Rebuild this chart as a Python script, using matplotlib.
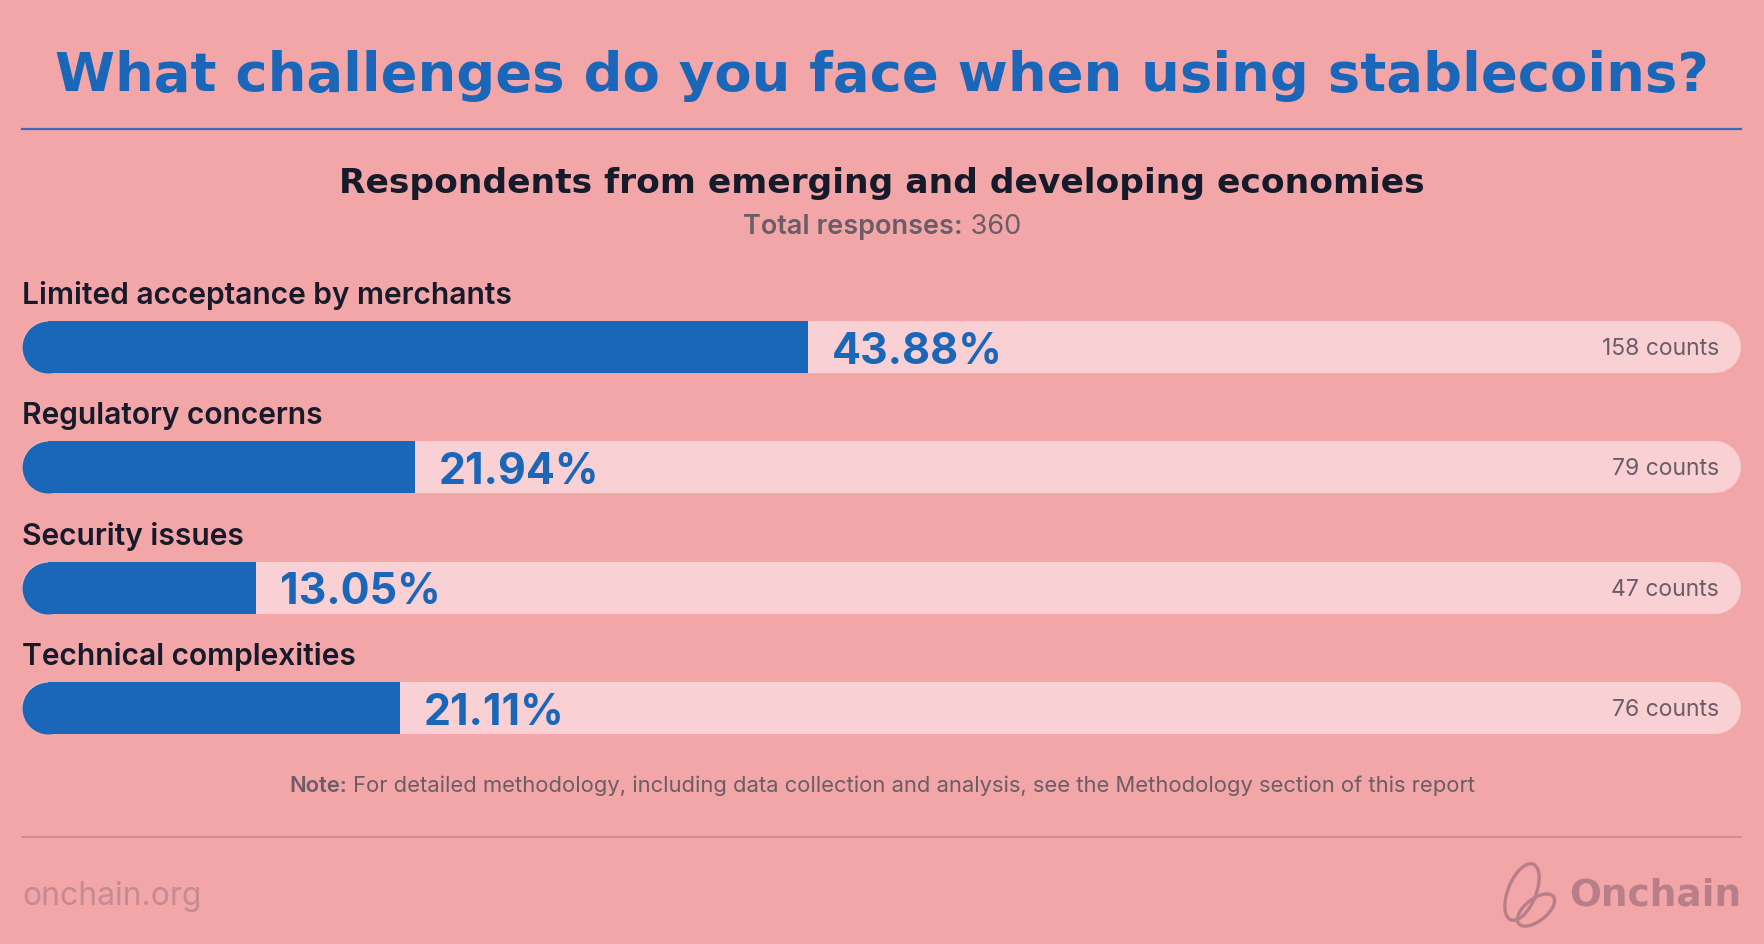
import matplotlib
matplotlib.use("Agg")
from matplotlib import pyplot as plt
from matplotlib.lines import Line2D
from matplotlib.patches import Ellipse

categories = [
    "Limited acceptance by merchants",
    "Regulatory concerns",
    "Security issues",
    "Technical complexities",
]
percents = [43.88, 21.94, 13.05, 21.11]
counts = [158, 79, 47, 76]
total_responses = 360

title = "What challenges do you face when using stablecoins?"
subtitle = "Respondents from emerging and developing economies"
note_head = "Note:"
note_body = " For detailed methodology, including data collection and analysis, see the Methodology section of this report"

BG = "#f2a6a8"
TRACK = "#f9d0d4"
BLUE = "#1a67b9"
DARK = "#161a2a"
GREY = "#6b5d66"
MUTED = "#b97f89"

W, H, DPI = 1764, 944, 100
fig = plt.figure(figsize=(W / DPI, H / DPI), dpi=DPI, facecolor=BG)


def fx(x):
    return x / W


def fy(y):
    return 1 - y / H


# header
fig.text(fx(882), fy(76), title, ha="center", va="center", fontsize=39.2,
         fontweight="bold", color=BLUE, family="DejaVu Sans")
fig.add_artist(Line2D([fx(22), fx(1741)], [fy(129), fy(129)], color="#3a6db6", lw=1.6))
fig.text(fx(882), fy(184), subtitle, ha="center", va="center", fontsize=24.8,
         fontweight="bold", color=DARK, family="DejaVu Sans")

renderer = fig.canvas.get_renderer()


def two_part(y, head, body, size, head_w, body_w):
    t1 = fig.text(0, fy(y), head, ha="left", va="center", fontsize=size,
                  fontweight=head_w, color=GREY, family="Inter")
    t2 = fig.text(0, fy(y), body, ha="left", va="center", fontsize=size,
                  fontweight=body_w, color=GREY, family="Inter")
    w1 = t1.get_window_extent(renderer).width
    w2 = t2.get_window_extent(renderer).width
    x0 = 882 - (w1 + w2) / 2
    t1.set_x(fx(x0))
    t2.set_x(fx(x0 + w1))


two_part(227, "Total responses:", " %d" % total_responses, 19.5, "semibold", "normal")

# bars
track_max = 96
row_top, row_pitch = 347, 120.4
y_lo = row_top - row_pitch / 2
y_hi = row_top + row_pitch * (len(categories) - 0.5)
ax = fig.add_axes([fx(22), fy(y_hi), (1741 - 22) / W, (y_hi - y_lo) / H])
ax.set_xlim(0, track_max)
ax.set_ylim(len(categories) - 0.5, -0.5)
ax.axis("off")

bar_px = 52
bar_pt = bar_px * 72 / DPI
r = (bar_px / 2) * track_max / (1741 - 22)
bar_h = bar_px / row_pitch
pt = 72 / DPI

for i, (cat, p, c) in enumerate(zip(categories, percents, counts)):
    ax.plot([r, track_max - r], [i, i], color=TRACK, lw=bar_pt,
            solid_capstyle="round", zorder=1)
    ax.barh(i, p - r, left=r, height=bar_h, color=BLUE, zorder=2)
    ax.plot([r], [i], marker="o", ms=bar_pt, color=BLUE, mec="none", zorder=2)
    ax.annotate(cat, (0, i), xytext=(0, 43 * pt), textcoords="offset points",
                ha="left", va="baseline", fontsize=21.6, fontweight="semibold",
                color=DARK, family="Inter")
    ax.annotate("%.2f%%" % p, (p, i), xytext=(24 * pt, -5 * pt), textcoords="offset points",
                ha="left", va="center", fontsize=31, fontweight="bold",
                color=BLUE, family="Inter")
    ax.annotate("%d counts" % c, (track_max, i), xytext=(-22 * pt, -2 * pt),
                textcoords="offset points", ha="right", va="center",
                fontsize=16.5, color=GREY, family="Inter")

two_part(786, note_head, note_body, 15.8, "semibold", "normal")

# footer
fig.add_artist(Line2D([fx(22), fx(1741)], [fy(837), fy(837)], color="#c68b93", lw=1.2))
fig.text(fx(22), fy(897), "onchain.org", ha="left", va="center", fontsize=23,
         color="#c78a92", family="Inter")
fig.text(fx(1741), fy(896), "Onchain", ha="right", va="center", fontsize=27,
         fontweight="bold", color=MUTED, family="DejaVu Sans")

logo = fig.add_axes([fx(1498), fy(932), 70 / W, 70 / H])
logo.set_xlim(0, 70)
logo.set_ylim(0, 70)
logo.axis("off")
logo.add_patch(Ellipse((24, 40), 28, 60, angle=-22, fill=False, ec=MUTED, lw=2.4))
logo.add_patch(Ellipse((38, 22), 44, 22, angle=38, fill=False, ec=MUTED, lw=2.4))

fig.savefig("out.png", dpi=DPI, facecolor=BG)
